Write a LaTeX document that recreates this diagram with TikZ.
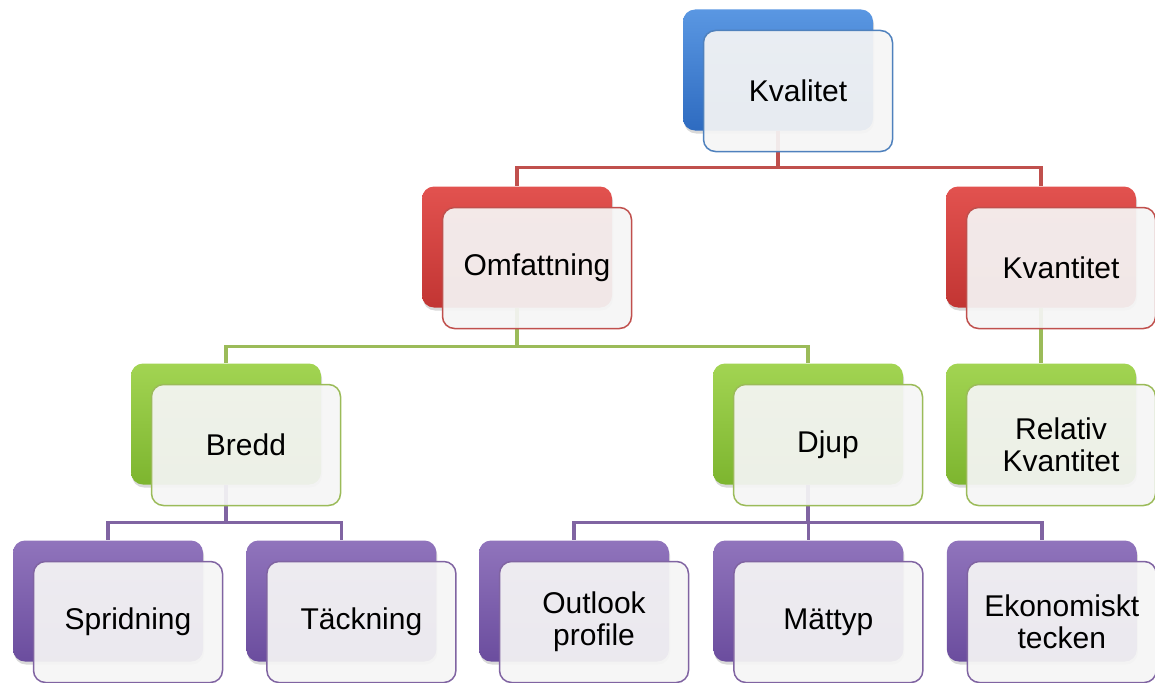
\documentclass[tikz,border=0pt]{standalone}
\usepackage{fontspec}
\setmainfont{Liberation Sans}
\usetikzlibrary{positioning,shadows,calc}

\definecolor{bluetop}{HTML}{5A97E2}
\definecolor{bluebot}{HTML}{2E6BC0}
\definecolor{blueline}{HTML}{4F81BD}
\definecolor{redtop}{HTML}{E2524F}
\definecolor{redbot}{HTML}{C23533}
\definecolor{redline}{HTML}{C0504D}
\definecolor{greentop}{HTML}{A2D452}
\definecolor{greenbot}{HTML}{7DB52F}
\definecolor{greenline}{HTML}{9BBB59}
\definecolor{purpletop}{HTML}{9074BC}
\definecolor{purplebot}{HTML}{6B4D9E}
\definecolor{purpleline}{HTML}{8064A2}
\definecolor{cardwhite}{HTML}{F5F5F5}

\begin{document}
\begin{tikzpicture}[x=1pt, y=-1pt,
cardback/.style={rectangle, rounded corners=12pt, minimum width=190pt, minimum height=121pt, top color=#1top, bottom color=#1bot, drop shadow={opacity=0.3, shadow xshift=1pt, shadow yshift=-3pt}},
cardfront/.style={rectangle, rounded corners=12pt, minimum width=189pt, minimum height=121pt, draw=#1line, line width=1.5pt, fill=cardwhite, fill opacity=0.93, text opacity=1, align=center, font=\fontsize{30}{32}\selectfont},
branch/.style={draw=#1line, line width=3.5pt},
]
\useasboundingbox (0,0) rectangle (1155,682);

%Back cards
\node[cardback=blue]   (kvalitet-b)   at (778,70)   {};
\node[cardback=red]    (omfattning-b) at (517,247)  {};
\node[cardback=red]    (kvantitet-b)  at (1041,247) {};
\node[cardback=green]  (bredd-b)      at (226,424)  {};
\node[cardback=green]  (djup-b)       at (808,424)  {};
\node[cardback=green]  (relativ-b)    at (1041,424) {};
\node[cardback=purple] (spridning-b)  at (108,601)  {};
\node[cardback=purple] (tackning-b)   [right=43pt of spridning-b] {};
\node[cardback=purple] (outlook-b)    at (574,601)  {};
\node[cardback=purple] (mattyp-b)     [right=44pt of outlook-b]   {};
\node[cardback=purple] (ekonomiskt-b) [right=43pt of mattyp-b]    {};

%Lines
\draw[branch=red] (kvalitet-b.south) -- ++(0,37) -| (omfattning-b.north);
\draw[branch=red] (kvalitet-b.south) -- ++(0,37) -| (kvantitet-b.north);
\draw[branch=green] (omfattning-b.south) -- ++(0,39) -| (bredd-b.north);
\draw[branch=green] (omfattning-b.south) -- ++(0,39) -| (djup-b.north);
\draw[branch=green] (kvantitet-b.south) -- (relativ-b.north);
\draw[branch=purple] (bredd-b.south) -- ++(0,38) -| (spridning-b.north);
\draw[branch=purple] (bredd-b.south) -- ++(0,38) -| (tackning-b.north);
\draw[branch=purple] (djup-b.south) -- ++(0,38) -| (outlook-b.north);
\draw[branch=purple] (djup-b.south) -- ++(0,38) -| (mattyp-b.north);
\draw[branch=purple] (djup-b.south) -- ++(0,38) -| (ekonomiskt-b.north);

%Front cards
\node[cardfront=blue]   (kvalitet)   at ([shift={(20,21)}]kvalitet-b.center)   {Kvalitet};
\node[cardfront=red]    (omfattning) at ([shift={(20,21)}]omfattning-b.center) {Omfattning};
\node[cardfront=red]    (kvantitet)  at ([shift={(20,21)}]kvantitet-b.center)  {Kvantitet};
\node[cardfront=green]  (bredd)      at ([shift={(20,21)}]bredd-b.center)      {Bredd};
\node[cardfront=green]  (djup)       at ([shift={(20,21)}]djup-b.center)       {Djup};
\node[cardfront=green]  (relativ)    at ([shift={(20,21)}]relativ-b.center)    {Relativ\\Kvantitet};
\node[cardfront=purple] (spridning)  at ([shift={(20,21)}]spridning-b.center)  {Spridning};
\node[cardfront=purple] (tackning)   at ([shift={(20,21)}]tackning-b.center)   {Täckning};
\node[cardfront=purple] (outlook)    at ([shift={(20,21)}]outlook-b.center)    {Outlook\\profile};
\node[cardfront=purple] (mattyp)     at ([shift={(20,21)}]mattyp-b.center)     {Mättyp};
\node[cardfront=purple] (ekonomiskt) at ([shift={(20,21)}]ekonomiskt-b.center) {Ekonomiskt\\tecken};
\end{tikzpicture}
\end{document}
